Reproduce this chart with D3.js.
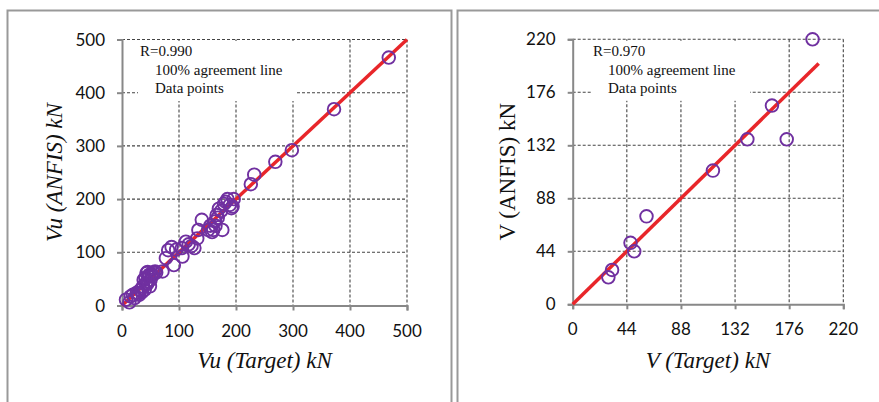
<!DOCTYPE html>
<html>
<head>
<meta charset="utf-8">
<script src="https://cdn.jsdelivr.net/npm/d3@7"></script>
<style>
  body { margin: 0; background: #fff; }
  svg { display: block; }
</style>
</head>
<body>
<svg id="chart" width="879" height="402"></svg>
<script>
// Left panel: Vu target vs ANFIS (kN)
const leftTicks = [0, 100, 200, 300, 400, 500]
const leftTarget = [468, 372, 298, 269, 232, 226, 196, 192, 185, 179, 189, 194, 176, 170, 166, 163, 160, 168, 151, 155,
  140, 134, 132, 122, 112, 105, 106, 127, 91, 81, 87, 95, 77, 71, 58, 52, 43, 47, 49, 42,
  37, 32, 26, 19, 15, 13, 7, 45, 55, 40, 35, 50, 44, 28, 60, 38, 117, 158,
  48, 53, 41, 46, 36, 30, 22, 174, 182, 164]
const leftAnfis = [466, 369, 292, 270, 246, 228, 200, 183, 200, 191, 189, 186, 142, 182, 170, 158, 142, 165, 142, 150,
  161, 142, 126, 112, 120, 108, 92, 108, 76, 104, 110, 105, 89, 64, 64, 59, 61, 54, 36, 42,
  36, 29, 24, 20, 17, 6, 11, 63, 62, 30, 25, 48, 40, 22, 62, 48, 115, 138,
  58, 56, 52, 45, 33, 20, 14, 178, 195, 150]
const leftLine = [0, 500]

// Right panel: V target vs ANFIS (kN)
const rightTicks = [0, 44, 88, 132, 176, 220]
const rightTarget = [195, 162, 174, 142, 114, 60, 47, 50, 32, 29]
const rightAnfis = [220, 165, 137, 137, 111, 73, 51, 44, 28.5, 22.4]
const rightLine = [0, 200]

const serif = "'Liberation Serif', 'Times New Roman', serif"
const sans = "Lato, 'Open Sans', sans-serif"

const svg = d3.select("#chart")

// panel frames
svg.append("path")
  .attr("d", "M7.5,412 V10.5 H451.5 V412")
  .attr("fill", "none").attr("stroke", "#999").attr("stroke-width", 2)
svg.append("path")
  .attr("d", "M457.5,412 V10.5 H890")
  .attr("fill", "none").attr("stroke", "#999").attr("stroke-width", 2)

/**
 * Draws one scatter panel with grid, 1:1 line, points and labels.
 */
function drawPanel (opt) {
  const x = d3.scaleLinear().domain(opt.domain).range([opt.x0, opt.x1])
  const y = d3.scaleLinear().domain(opt.domain).range([opt.y0, opt.y1])
  const g = svg.append("g")

  // dashed grid
  g.selectAll(".gx").data(opt.ticks.slice(1)).enter()
    .append("line")
    .attr("x1", d => x(d)).attr("x2", d => x(d))
    .attr("y1", y(opt.domain[1])).attr("y2", y(0))
    .attr("stroke", "#444").attr("stroke-width", 1.1).attr("stroke-dasharray", "3,2")
  g.selectAll(".gy").data(opt.ticks.slice(1)).enter()
    .append("line")
    .attr("x1", x(0)).attr("x2", x(opt.domain[1]))
    .attr("y1", d => y(d)).attr("y2", d => y(d))
    .attr("stroke", "#444").attr("stroke-width", 1.1).attr("stroke-dasharray", "3,2")

  // legend box hides the grid behind it
  g.append("rect")
    .attr("x", opt.legendX - 2).attr("y", y(opt.domain[1]) + 1.5)
    .attr("width", opt.legendW).attr("height", 60)
    .attr("fill", "#fff")

  // axes
  g.append("g")
    .attr("transform", `translate(0,${y(0)})`)
    .call(d3.axisBottom(x).tickValues(opt.ticks).tickSize(5).tickFormat(""))
    .call(a => a.selectAll("line, path").attr("stroke", "#888").attr("stroke-width", 2))
  g.append("g")
    .attr("transform", `translate(${x(0)},0)`)
    .call(d3.axisLeft(y).tickValues(opt.ticks).tickSize(5).tickFormat(""))
    .call(a => a.selectAll("line, path").attr("stroke", "#888").attr("stroke-width", 2))

  g.selectAll(".xl").data(opt.ticks).enter()
    .append("text")
    .attr("font-family", sans).attr("font-size", 17).attr("fill", "#111")
    .attr("x", d => x(d)).attr("y", y(0) + 31)
    .attr("text-anchor", "middle").text(d => d)
  g.selectAll(".yl").data(opt.ticks).enter()
    .append("text")
    .attr("font-family", sans).attr("font-size", 17).attr("fill", "#111")
    .attr("x", x(0) - 17).attr("y", d => y(d) + 6)
    .attr("text-anchor", "end").text(d => d)

  // 100% agreement line
  g.append("line")
    .attr("x1", x(opt.line[0])).attr("y1", y(opt.line[0]))
    .attr("x2", x(opt.line[1])).attr("y2", y(opt.line[1]))
    .attr("stroke", "#e8262a").attr("stroke-width", 3.5)

  // data points
  g.selectAll("circle").data(opt.target).enter()
    .append("circle")
    .attr("cx", d => x(d))
    .attr("cy", (d, i) => y(opt.anfis[i]))
    .attr("r", 6.3)
    .attr("fill", "none")
    .attr("stroke", "#7030a0")
    .attr("stroke-width", 1.9)

  // legend text
  const legend = [[opt.r, 0, 56], ["100% agreement line", 15, 75], ["Data points", 15, 93]]
  g.selectAll(".lg").data(legend).enter()
    .append("text")
    .attr("font-family", serif).attr("font-size", 15).attr("fill", "#111")
    .attr("x", d => opt.legendX + d[1]).attr("y", d => d[2])
    .text(d => d[0])

  // axis titles
  g.append("text")
    .attr("font-family", serif).attr("font-size", 23).attr("fill", "#111")
    .attr("x", (opt.x0 + opt.x1) / 2).attr("y", 368)
    .attr("text-anchor", "middle").attr("font-style", "italic")
    .text(opt.xTitle)
  g.append("text")
    .attr("font-family", serif).attr("font-size", 23).attr("fill", "#111")
    .attr("transform", `translate(${opt.yTitleX},${(opt.y0 + opt.y1) / 2}) rotate(-90)`)
    .attr("text-anchor", "middle").attr("font-style", opt.yItalic ? "italic" : "normal")
    .text(opt.yTitle)
}

drawPanel({
  domain: [0, 500], ticks: leftTicks, target: leftTarget, anfis: leftAnfis, line: leftLine,
  x0: 122, x1: 407, y0: 305.5, y1: 39.5,
  legendX: 140, legendW: 158, r: "R=0.990",
  xTitle: "Vu (Target) kN", yTitle: "Vu (ANFIS) kN", yItalic: true, yTitleX: 62
})

drawPanel({
  domain: [0, 220], ticks: rightTicks, target: rightTarget, anfis: rightAnfis, line: rightLine,
  x0: 572.7, x1: 843.3, y0: 304.3, y1: 39.3,
  legendX: 593, legendW: 159, r: "R=0.970",
  xTitle: "V (Target) kN", yTitle: "V (ANFIS) kN", yItalic: false, yTitleX: 515
})
</script>
</body>
</html>
